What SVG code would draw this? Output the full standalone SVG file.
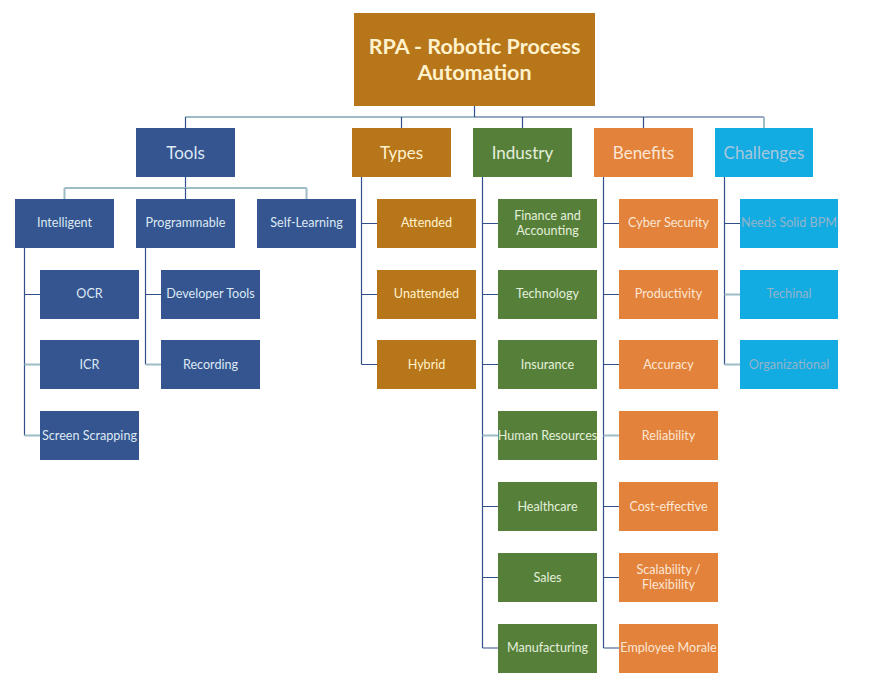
<svg xmlns="http://www.w3.org/2000/svg" width="877" height="686" viewBox="0 0 877 686">
  <style>
    text { font-family: Lato, "Open Sans", "Liberation Sans", sans-serif; text-anchor: middle; dominant-baseline: central; }
    .root rect { fill: #B8761A; }
    .root text { fill: #FFF2CC; font-size: 21.5px; font-weight: bold; }
    .l1 text { font-size: 17px; }
    .l2 text { font-size: 12.6px; }
    .blue rect { fill: #34558F; }
    .blue text { fill: #DDE8F4; }
    .brown rect { fill: #B8761A; }
    .brown text { fill: #FFF2CC; }
    .green rect { fill: #56803A; }
    .green text { fill: #E4EFDA; }
    .orange rect { fill: #E2823B; }
    .orange text { fill: #FCE6D4; }
    .cyan rect { fill: #12ABE2; }
    .cyan text { fill: #A9C7DA; }
    .cyan.l2 text { fill: #93B4CA; }
    .dark { fill: none; stroke: #31508A; stroke-width: 1.2; }
    .light { fill: none; stroke: #9DBCC5; stroke-width: 2; }
  </style>

  <!-- connectors -->
  <g id="connectors">
    <!-- top bus -->
    <path class="light" d="M185.5 117 H474"/>
    <path class="dark" d="M474 117 H764 M474.5 106 V117 M185.5 117 V128 M401.5 117 V128 M522.5 117 V128 M643.5 117 V128"/>
    <path class="light" d="M764 117 V128"/>
    <!-- tools bus -->
    <path class="dark" d="M185.5 177 V188"/>
    <path class="light" d="M64.5 188 H306.5 M64.5 188 V199 M306.5 188 V199"/>
    <path class="dark" d="M185.5 188 V199"/>
    <!-- intelligent -->
    <path class="dark" d="M24.5 248 V435.5 M24.5 294.5 H40"/>
    <path class="light" d="M24.5 364.5 H40 M24.5 435.5 H40"/>
    <!-- programmable -->
    <path class="dark" d="M145.5 248 V364.5 M145.5 294.5 H161"/>
    <path class="light" d="M145.5 364.5 H161"/>
    <!-- types -->
    <path class="dark" d="M361.5 177 V364.5 M361.5 223.5 H377 M361.5 294.5 H377 M361.5 364.5 H377"/>
    <!-- industry -->
    <path class="dark" d="M482.5 177 V648 M482.5 223.5 H498 M482.5 294.5 H498 M482.5 364.5 H498 M482.5 506.5 H498 M482.5 577.5 H498 M482.5 648 H498"/>
    <path class="light" d="M482.5 435.5 H498"/>
    <!-- benefits -->
    <path class="dark" d="M603.5 177 V648 M603.5 223.5 H619 M603.5 294.5 H619 M603.5 364.5 H619 M603.5 506.5 H619 M603.5 577.5 H619 M603.5 648 H619"/>
    <path class="light" d="M603.5 435.5 H619"/>
    <!-- challenges -->
    <path class="dark" d="M724.5 177 V364.5 M724.5 223.5 H740"/>
    <path class="light" d="M724.5 294.5 H740 M724.5 364.5 H740"/>
  </g>

  <!-- root -->
  <g id="root" class="root">
    <rect x="354" y="13" width="241" height="93"/>
    <text x="474.5" y="46">RPA - Robotic Process</text>
    <text x="474.5" y="72">Automation</text>
  </g>

  <!-- level 1 -->
  <g id="tools" class="l1 blue"><rect x="136" y="128" width="99" height="49"/><text x="185.5" y="152">Tools</text></g>
  <g id="types" class="l1 brown"><rect x="352" y="128" width="99" height="49"/><text x="401.5" y="152">Types</text></g>
  <g id="industry" class="l1 green"><rect x="473" y="128" width="99" height="49"/><text x="522.5" y="152">Industry</text></g>
  <g id="benefits" class="l1 orange"><rect x="594" y="128" width="99" height="49"/><text x="643.5" y="152">Benefits</text></g>
  <g id="challenges" class="l1 cyan"><rect x="715" y="128" width="98" height="49"/><text x="764" y="152">Challenges</text></g>

  <!-- tools subtree -->
  <g id="intelligent" class="l2 blue"><rect x="15" y="199" width="99" height="49"/><text x="64.5" y="222">Intelligent</text></g>
  <g id="programmable" class="l2 blue"><rect x="136" y="199" width="99" height="49"/><text x="185.5" y="222">Programmable</text></g>
  <g id="self-learning" class="l2 blue"><rect x="257" y="199" width="99" height="49"/><text x="306.5" y="222">Self-Learning</text></g>
  <g id="ocr" class="l2 blue"><rect x="40" y="270" width="99" height="49"/><text x="89.5" y="293">OCR</text></g>
  <g id="icr" class="l2 blue"><rect x="40" y="340" width="99" height="49"/><text x="89.5" y="364">ICR</text></g>
  <g id="screen-scrapping" class="l2 blue"><rect x="40" y="411" width="99" height="49"/><text x="89.5" y="435">Screen Scrapping</text></g>
  <g id="developer-tools" class="l2 blue"><rect x="161" y="270" width="99" height="49"/><text x="210.5" y="293">Developer Tools</text></g>
  <g id="recording" class="l2 blue"><rect x="161" y="340" width="99" height="49"/><text x="210.5" y="364">Recording</text></g>

  <!-- types subtree -->
  <g id="attended" class="l2 brown"><rect x="377" y="199" width="99" height="49"/><text x="426.5" y="222">Attended</text></g>
  <g id="unattended" class="l2 brown"><rect x="377" y="270" width="99" height="49"/><text x="426.5" y="293">Unattended</text></g>
  <g id="hybrid" class="l2 brown"><rect x="377" y="340" width="99" height="49"/><text x="426.5" y="364">Hybrid</text></g>

  <!-- industry subtree -->
  <g id="finance" class="l2 green"><rect x="498" y="199" width="99" height="49"/><text x="547.5" y="215">Finance and</text><text x="547.5" y="230">Accounting</text></g>
  <g id="technology" class="l2 green"><rect x="498" y="270" width="99" height="49"/><text x="547.5" y="293">Technology</text></g>
  <g id="insurance" class="l2 green"><rect x="498" y="340" width="99" height="49"/><text x="547.5" y="364">Insurance</text></g>
  <g id="human-resources" class="l2 green"><rect x="498" y="411" width="99" height="49"/><text x="547.5" y="435">Human Resources</text></g>
  <g id="healthcare" class="l2 green"><rect x="498" y="482" width="99" height="49"/><text x="547.5" y="506">Healthcare</text></g>
  <g id="sales" class="l2 green"><rect x="498" y="553" width="99" height="49"/><text x="547.5" y="577">Sales</text></g>
  <g id="manufacturing" class="l2 green"><rect x="498" y="624" width="99" height="49"/><text x="547.5" y="647">Manufacturing</text></g>

  <!-- benefits subtree -->
  <g id="cyber-security" class="l2 orange"><rect x="619" y="199" width="99" height="49"/><text x="668.5" y="222">Cyber Security</text></g>
  <g id="productivity" class="l2 orange"><rect x="619" y="270" width="99" height="49"/><text x="668.5" y="293">Productivity</text></g>
  <g id="accuracy" class="l2 orange"><rect x="619" y="340" width="99" height="49"/><text x="668.5" y="364">Accuracy</text></g>
  <g id="reliability" class="l2 orange"><rect x="619" y="411" width="99" height="49"/><text x="668.5" y="435">Reliability</text></g>
  <g id="cost-effective" class="l2 orange"><rect x="619" y="482" width="99" height="49"/><text x="668.5" y="506">Cost-effective</text></g>
  <g id="scalability" class="l2 orange"><rect x="619" y="553" width="99" height="49"/><text x="668.5" y="569">Scalability /</text><text x="668.5" y="584">Flexibility</text></g>
  <g id="employee-morale" class="l2 orange"><rect x="619" y="624" width="99" height="49"/><text x="668.5" y="647">Employee Morale</text></g>

  <!-- challenges subtree -->
  <g id="needs-solid-bpm" class="l2 cyan"><rect x="740" y="199" width="98" height="49"/><text x="789" y="222">Needs Solid BPM</text></g>
  <g id="technical" class="l2 cyan"><rect x="740" y="270" width="98" height="49"/><text x="789" y="293">Techinal</text></g>
  <g id="organizational" class="l2 cyan"><rect x="740" y="340" width="98" height="49"/><text x="789" y="364">Organizational</text></g>
</svg>
